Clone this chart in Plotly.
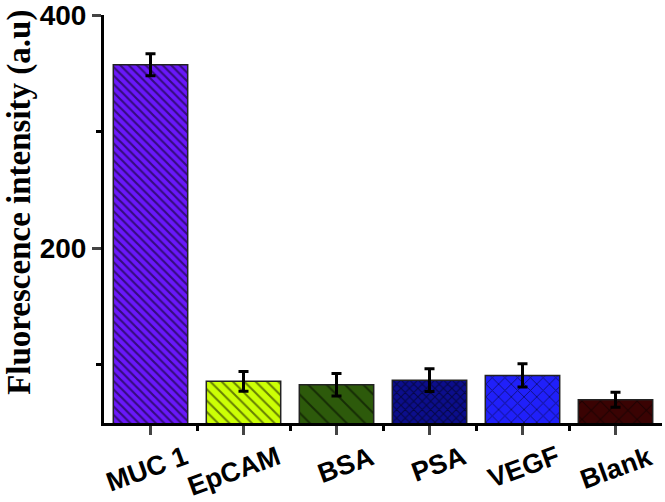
import plotly.graph_objects as go

categories = ["MUC 1", "EpCAM", "BSA", "PSA", "VEGF", "Blank"]
intensity = [357.5, 85.8, 82.8, 86.8, 90.8, 70.0]
errors = [9.5, 8.5, 9.6, 9.8, 10.0, 6.5]
colors = ["#6A18FA", "#CCFF05", "#2D5A0B", "#0C0E8C", "#2020FA", "#3A0303"]
shapes = ["\\", "\\", "\\", "x", "x", "x"]
sizes = [6, 8, 13, 6, 9, 13]
solidity = [0.35, 0.25, 0.15, 0.3, 0.2, 0.15]

xs = list(range(len(categories)))

fig = go.Figure()
for i, cat in enumerate(categories):
    fig.add_trace(go.Bar(
        x=[xs[i]], y=[intensity[i]], width=0.8,
        marker=dict(
            color=colors[i],
            line=dict(color="#222222", width=1.5),
            pattern=dict(shape=shapes[i], fgcolor="#000000", bgcolor=colors[i],
                         size=sizes[i], solidity=solidity[i], fillmode="overlay"),
        ),
        error_y=dict(type="data", array=[errors[i]], color="black",
                     thickness=3, width=5),
        showlegend=False,
    ))

# category labels, rotated and right-aligned a bit past each tick
for i, cat in enumerate(categories):
    fig.add_annotation(
        x=xs[i] + 0.47, y=-0.037, xref="x", yref="paper",
        text=cat, showarrow=False, textangle=-20,
        xanchor="right", yanchor="top",
        font=dict(family="Liberation Sans", size=27, color="black", weight="bold"),
    )

# y title placed by hand, a little above the axis middle
fig.add_annotation(
    x=-0.152, y=0.54, xref="paper", yref="paper",
    text="Fluorescence intensity (a.u)", showarrow=False, textangle=-90,
    xanchor="center", yanchor="middle",
    font=dict(family="Liberation Serif", size=33, color="black", weight="bold"),
)

fig.update_layout(
    width=665, height=502,
    margin=dict(l=104, r=3, t=15, b=79),
    plot_bgcolor="white", paper_bgcolor="white",
    xaxis=dict(
        range=[-0.5, 5.5], tickvals=xs, showticklabels=False,
        ticks="outside", ticklen=9, tickwidth=3, automargin=False,
        showline=True, linecolor="black", linewidth=3, showgrid=False,
        zeroline=False,
        minor=dict(tickvals=[0.5, 1.5, 2.5, 3.5, 4.5], ticks="outside",
                   ticklen=5, tickwidth=3, tickcolor="black"),
    ),
    yaxis=dict(
        range=[50, 400.2], tickvals=[200, 400], ticks="outside", ticklen=9,
        tickwidth=3, showline=True, linecolor="black", linewidth=3,
        showgrid=False, zeroline=False, automargin=False,
        ticklabeloverflow="allow",
        tickfont=dict(family="Liberation Sans", size=28, color="black", weight="bold"),
        minor=dict(tickvals=[100, 300], ticks="outside", ticklen=5,
                   tickwidth=3, tickcolor="black"),
    ),
)

fig.write_html("out.html", config={"displayModeBar": False},
               post_script="document.body.style.margin='0';")
